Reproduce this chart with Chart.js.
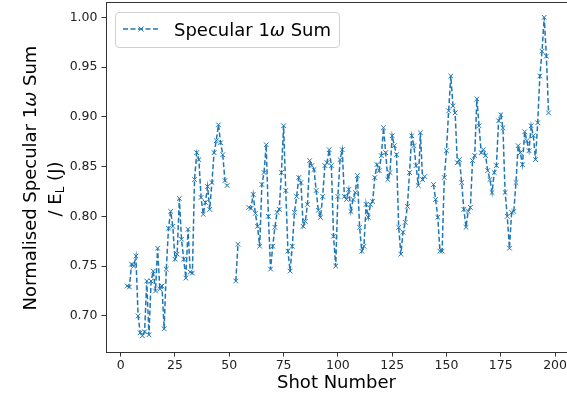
<!DOCTYPE html>
<html>
<head>
<meta charset="utf-8">
<script src="https://cdn.jsdelivr.net/npm/chart.js@4"></script>
<style>
  body { margin: 0; background: #fff; }
  #wrap { position: relative; width: 567px; height: 394px; font-family: "DejaVu Sans", sans-serif; }
  .ylab { position: absolute; white-space: nowrap; font-size: 18px; line-height: 18px; color: #000;
          transform: translate(-50%, -50%) rotate(-90deg); }
  .ylab sub { font-size: 12px; vertical-align: -3px; line-height: 0; }
  #legend { position: absolute; left: 115px; top: 12px; width: 223px; height: 34px;
            border: 1px solid #d0d0d0; border-radius: 4px; background: rgba(255,255,255,0.85); }
  #legend svg { position: absolute; left: 6px; top: 10px; }
  #legend span { position: absolute; left: 58px; top: 7px; font-size: 18px; line-height: 20px; color: #000; white-space: nowrap; }
</style>
</head>
<body>
<div id="wrap">
  <canvas id="myChart" width="567" height="394"></canvas>
  <div class="ylab" style="left:30px; top:178px;">Normalised Specular 1<i>ω</i> Sum</div>
  <div class="ylab" style="left:55px; top:189px;">/ E<sub>L</sub> (J)</div>
  <div id="legend">
    <svg width="38" height="12">
      <line x1="1" y1="6" x2="37" y2="6" stroke="#1f77b4" stroke-width="1.5" stroke-dasharray="5 2.5"/>
      <path d="M16.5 3.5 L21.5 8.5 M21.5 3.5 L16.5 8.5" stroke="#1f77b4" stroke-width="1"/>
    </svg>
    <span>Specular 1<i>ω</i> Sum</span>
  </div>
</div>
<script>
const ctx = document.getElementById('myChart');

// first shot number, values follow one per shot (null = missing shot)
var firstShot = 3;
var specSum = [
  0.730, 0.729, 0.752, 0.750, 0.760, 0.700, 0.683, 0.680, 0.684, 0.735,
  0.681, 0.735, 0.745, 0.725, 0.768, 0.727, 0.730, 0.687, 0.747, 0.788,
  0.805, 0.790, 0.757, 0.762, 0.818, 0.777, 0.757, 0.738, 0.787, 0.744,
  0.743, 0.837, 0.864, 0.857, 0.819, 0.802, 0.814, 0.830, 0.807, 0.834,
  0.864, 0.876, 0.892, 0.874, 0.862, 0.836, 0.831, null, null, null,
  0.735, 0.772, null, null, null, null, 0.809, 0.808, 0.822, 0.803,
  0.790, 0.770, 0.832, 0.844, 0.872, 0.800, 0.747, 0.770, 0.789, 0.804,
  0.807, 0.844, 0.891, 0.826, 0.765, 0.745, 0.770, 0.804, 0.820, 0.839,
  0.834, 0.790, 0.795, 0.812, 0.856, 0.851, 0.847, 0.826, 0.806, 0.799,
  0.820, 0.851, 0.854, 0.867, 0.851, 0.780, 0.750, 0.820, 0.857, 0.867,
  0.820, 0.817, 0.827, 0.805, 0.817, 0.824, 0.841, 0.789, 0.765, 0.770,
  0.812, 0.799, 0.812, 0.815, 0.839, 0.852, 0.846, 0.861, 0.889, 0.864,
  0.837, 0.844, 0.881, 0.871, 0.862, 0.789, 0.762, 0.784, 0.794, 0.810,
  0.844, 0.881, 0.871, 0.851, 0.831, 0.884, 0.837, 0.840, null, null,
  null, 0.832, 0.817, 0.799, 0.765, 0.765, 0.839, 0.866, 0.906, 0.941,
  0.911, 0.904, 0.854, 0.857, 0.834, 0.807, 0.789, 0.805, 0.809, 0.856,
  0.861, 0.918, 0.891, 0.864, 0.867, 0.861, 0.846, 0.837, 0.824, 0.844,
  0.851, 0.896, 0.902, 0.889, 0.824, 0.800, 0.768, 0.804, 0.805, 0.834,
  0.871, 0.864, 0.852, 0.885, 0.876, 0.866, 0.891, 0.881, 0.857, 0.894,
  0.941, 0.966, 1.000, 0.961, 0.904
];

var xTicks = [0, 25, 50, 75, 100, 125, 150, 175, 200];
var yTicks = [0.70, 0.75, 0.80, 0.85, 0.90, 0.95, 1.00];

var points = specSum.map(function (v, i) {
  return { x: firstShot + i, y: v };
});

// top spine like matplotlib
const topSpine = {
  id: 'topSpine',
  afterDraw(chart) {
    const a = chart.chartArea;
    const c = chart.ctx;
    c.save();
    c.strokeStyle = '#333';
    c.lineWidth = 1;
    c.beginPath();
    c.moveTo(a.left, a.top + 0.5);
    c.lineTo(a.right, a.top + 0.5);
    c.stroke();
    c.restore();
  }
};

Chart.defaults.font.family = '"DejaVu Sans", sans-serif';
Chart.defaults.color = '#222';

new Chart(ctx, {
  type: 'line',
  data: {
    datasets: [{
      label: 'Specular 1ω Sum',
      data: points,
      borderColor: '#1f77b4',
      backgroundColor: '#1f77b4',
      borderWidth: 1.5,
      borderDash: [5, 2.5],
      pointStyle: 'crossRot',
      pointRadius: 3.3,
      pointBorderWidth: 1,
      pointHoverRadius: 3.3,
      tension: 0,
      spanGaps: false
    }]
  },
  options: {
    responsive: false,
    animation: false,
    layout: { autoPadding: false, padding: { top: 2, right: 0, bottom: 0, left: 0 } },
    plugins: {
      legend: { display: false },
      tooltip: { enabled: false }
    },
    scales: {
      x: {
        type: 'linear',
        min: -6.77,
        max: 205.5,
        afterFit: function (s) { s.height = 42; s.paddingLeft = 0; s.paddingRight = 0; },
        afterBuildTicks: function (s) { s.ticks = xTicks.map(v => ({ value: v })); },
        grid: { drawOnChartArea: false, tickLength: 4.5, tickColor: '#333' },
        border: { color: '#333', width: 1 },
        ticks: { font: { size: 12.5 }, padding: 2, maxRotation: 0, callback: v => String(v) },
        title: {
          display: true,
          text: 'Shot Number',
          font: { size: 18 },
          color: '#000',
          padding: { top: 0, bottom: 0 }
        }
      },
      y: {
        min: 0.6637,
        max: 1.0154,
        afterFit: function (s) { s.width = 106; s.paddingTop = 0; s.paddingBottom = 0; },
        afterBuildTicks: function (s) { s.ticks = yTicks.map(v => ({ value: v })); },
        grid: { drawOnChartArea: false, tickLength: 4.5, tickColor: '#333' },
        border: { color: '#333', width: 1 },
        ticks: { font: { size: 12.5 }, padding: 4, callback: v => v.toFixed(2) }
      }
    }
  },
  plugins: [topSpine]
});
</script>
</body>
</html>
